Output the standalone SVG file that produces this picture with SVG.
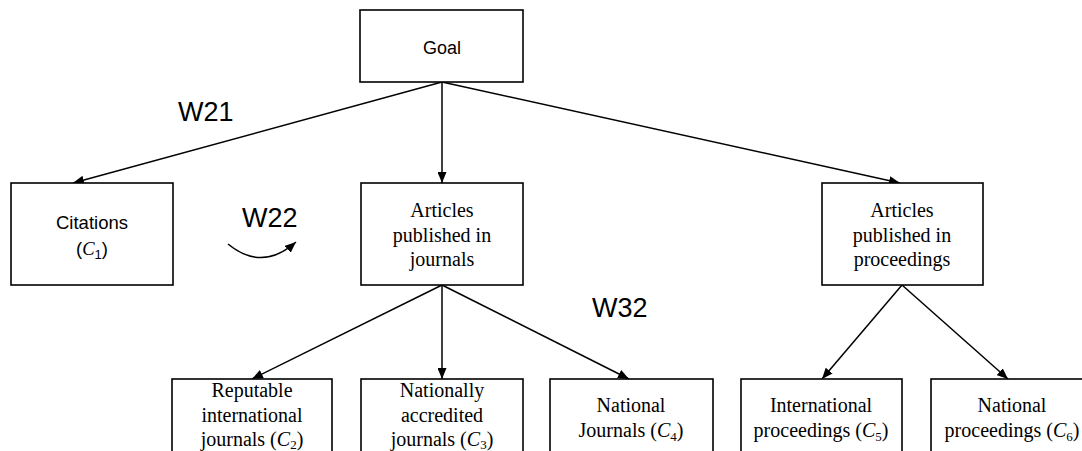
<svg xmlns="http://www.w3.org/2000/svg" width="1082" height="451" viewBox="0 0 1082 451">
  <style>
    .box { fill: #ffffff; stroke: #000000; stroke-width: 1.6; }
    .conn { fill: none; stroke: #000000; stroke-width: 1.5; marker-end: url(#arrow); }
    .serif { font-family: "Liberation Serif", "Times New Roman", serif; font-size: 20px; fill: #000000; text-anchor: middle; }
    .sans { font-family: "Liberation Sans", Arial, sans-serif; fill: #000000; }
    .lbl { font-size: 27px; }
    .sub { font-size: 13px; }
  </style>
  <defs>
    <marker id="arrow" markerUnits="userSpaceOnUse" markerWidth="11" markerHeight="9" refX="11" refY="4.5" orient="auto">
      <path d="M0,0 L11,4.5 L0,9 z" fill="#000000"/>
    </marker>
  </defs>
  <rect width="1082" height="451" fill="#ffffff"/>

  <g id="connectors">
    <line class="conn" x1="442" y1="82" x2="73" y2="183"/>
    <line class="conn" x1="442" y1="82" x2="442" y2="183"/>
    <line class="conn" x1="442" y1="82" x2="900" y2="183"/>
    <line class="conn" x1="442" y1="285" x2="252" y2="379"/>
    <line class="conn" x1="442" y1="285" x2="442" y2="379"/>
    <line class="conn" x1="442" y1="285" x2="629" y2="379"/>
    <line class="conn" x1="902" y1="285" x2="822" y2="379"/>
    <line class="conn" x1="902" y1="285" x2="1008" y2="379"/>
    <path class="conn" d="M228,244 Q262,272 296,242"/>
  </g>

  <g id="labels">
    <text class="sans lbl" x="178" y="121">W21</text>
    <text class="sans lbl" x="242" y="227">W22</text>
    <text class="sans lbl" x="592" y="317">W32</text>
  </g>

  <g id="goal">
    <rect class="box" x="360" y="10" width="163" height="72"/>
    <text class="sans" x="442" y="54" font-size="18" text-anchor="middle">Goal</text>
  </g>

  <g id="citations">
    <rect class="box" x="11" y="183" width="162" height="102"/>
    <text class="sans" x="92" y="229" font-size="18.5" text-anchor="middle">Citations</text>
    <text class="sans" x="92" y="255" font-size="18.5" text-anchor="middle">(<tspan font-family="Liberation Serif, serif" font-style="italic">C</tspan><tspan class="sub" dy="4">1</tspan><tspan dy="-4">)</tspan></text>
  </g>

  <g id="journals">
    <rect class="box" x="361" y="183" width="162" height="102"/>
    <text class="serif" x="442" y="217">Articles</text>
    <text class="serif" x="442" y="242">published in</text>
    <text class="serif" x="442" y="266">journals</text>
  </g>

  <g id="proceedings">
    <rect class="box" x="822" y="183" width="161" height="102"/>
    <text class="serif" x="902" y="217">Articles</text>
    <text class="serif" x="902" y="242">published in</text>
    <text class="serif" x="902" y="266">proceedings</text>
  </g>

  <g id="c2">
    <rect class="box" x="172" y="379" width="160" height="80"/>
    <text class="serif" x="252" y="397">Reputable</text>
    <text class="serif" x="252" y="421.5">international</text>
    <text class="serif" x="252" y="445.5">journals (<tspan font-style="italic">C</tspan><tspan class="sub" dy="3">2</tspan><tspan dy="-3">)</tspan></text>
  </g>

  <g id="c3">
    <rect class="box" x="361" y="379" width="162" height="80"/>
    <text class="serif" x="442" y="397">Nationally</text>
    <text class="serif" x="442" y="421.5">accredited</text>
    <text class="serif" x="442" y="445.5">journals (<tspan font-style="italic">C</tspan><tspan class="sub" dy="3">3</tspan><tspan dy="-3">)</tspan></text>
  </g>

  <g id="c4">
    <rect class="box" x="550" y="379" width="163" height="80"/>
    <text class="serif" x="631" y="412">National</text>
    <text class="serif" x="631" y="437">Journals (<tspan font-style="italic">C</tspan><tspan class="sub" dy="4">4</tspan><tspan dy="-4">)</tspan></text>
  </g>

  <g id="c5">
    <rect class="box" x="741" y="379" width="161" height="80"/>
    <text class="serif" x="821" y="412">International</text>
    <text class="serif" x="821" y="437">proceedings (<tspan font-style="italic">C</tspan><tspan class="sub" dy="4">5</tspan><tspan dy="-4">)</tspan></text>
  </g>

  <g id="c6">
    <rect class="box" x="931" y="379" width="162" height="80"/>
    <text class="serif" x="1012" y="412">National</text>
    <text class="serif" x="1012" y="437">proceedings (<tspan font-style="italic">C</tspan><tspan class="sub" dy="4">6</tspan><tspan dy="-4">)</tspan></text>
  </g>
</svg>
